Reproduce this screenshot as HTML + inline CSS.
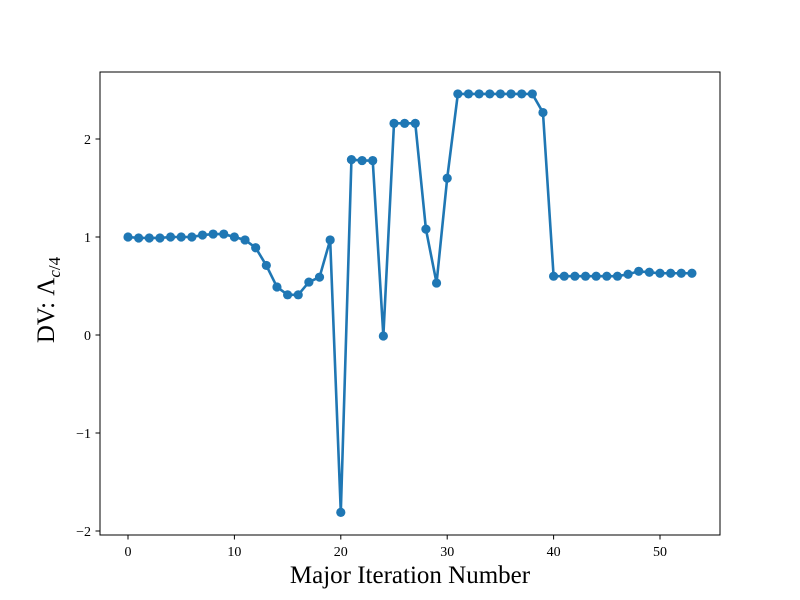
<!DOCTYPE html>
<html><head><meta charset="utf-8"><style>
html,body{margin:0;padding:0;background:#fff;}
svg{display:block;font-family:"Liberation Serif","DejaVu Serif",serif;}
</style></head><body>
<svg id="chart" width="800" height="600" viewBox="0 0 800 600">
<rect x="0" y="0" width="800" height="600" fill="#fff"/>
<g id="grid"></g>
<g id="series"></g>
<rect x="100" y="72" width="620" height="463" fill="none" stroke="#000" stroke-width="1"/>
<g id="xticks"></g>
<g id="yticks"></g>
<text x="410" y="583" font-size="25" text-anchor="middle">Major Iteration Number</text>
<text transform="translate(54,300) rotate(-90)" font-size="25" text-anchor="middle">DV: Λ<tspan font-size="17" dy="6" font-style="italic">c</tspan><tspan font-size="17">/4</tspan></text>
</svg>
<script>
const iterations = [0,1,2,3,4,5,6,7,8,9,10,11,12,13,14,15,16,17,18,19,20,21,22,23,24,25,26,27,28,29,30,31,32,33,34,35,36,37,38,39,40,41,42,43,44,45,46,47,48,49,50,51,52,53];
const dvValues = [1.00,0.99,0.99,0.99,1.00,1.00,1.00,1.02,1.03,1.03,1.00,0.97,0.89,0.71,0.49,0.41,0.41,0.54,0.59,0.97,-1.81,1.79,1.78,1.78,-0.01,2.16,2.16,2.16,1.08,0.53,1.60,2.46,2.46,2.46,2.46,2.46,2.46,2.46,2.46,2.27,0.60,0.60,0.60,0.60,0.60,0.60,0.60,0.62,0.65,0.64,0.63,0.63,0.63,0.63];
const xTickValues = [0,10,20,30,40,50];
const yTickValues = [-2,-1,0,1,2];
const yTickLabels = ["−2","−1","0","1","2"];

const NS="http://www.w3.org/2000/svg";
function xs(v){return 128+v*(660-128)/50;}
function ys(v){return 335-v*98;}
function mk(tag,attrs,parent){const e=document.createElementNS(NS,tag);for(const k in attrs)e.setAttribute(k,attrs[k]);parent.appendChild(e);return e;}

const xt=document.getElementById('xticks');
xTickValues.forEach((v,i)=>{
  const l=mk('line',{x1:xs(v),x2:xs(v),y1:535,y2:539.5,stroke:'#000','stroke-width':1},xt);
  
  
  const t=mk('text',{x:xs(v),y:556,'font-size':14,'text-anchor':'middle'},xt);
  t.textContent=String(v);
  
  
});
const yt=document.getElementById('yticks');
yTickValues.forEach((v,i)=>{
  const l=mk('line',{x1:95.5,x2:100,y1:ys(v),y2:ys(v),stroke:'#000','stroke-width':1},yt);
  
  
  const t=mk('text',{x:91,y:ys(v)+5,'font-size':14,'text-anchor':'end'},yt);
  t.textContent=yTickLabels[i];
  
  
});
const s=document.getElementById('series');
const pts=iterations.map((x,i)=>xs(x)+','+ys(dvValues[i])).join(' ');
const pl=mk('polyline',{points:pts,fill:'none',stroke:'#1f77b4','stroke-width':2.6,'stroke-linejoin':'round'},s);


iterations.forEach((x,i)=>{
  const c=mk('circle',{cx:xs(x),cy:ys(dvValues[i]),r:4.6,fill:'#1f77b4'},s);
  
  
});
</script>
</body></html>
